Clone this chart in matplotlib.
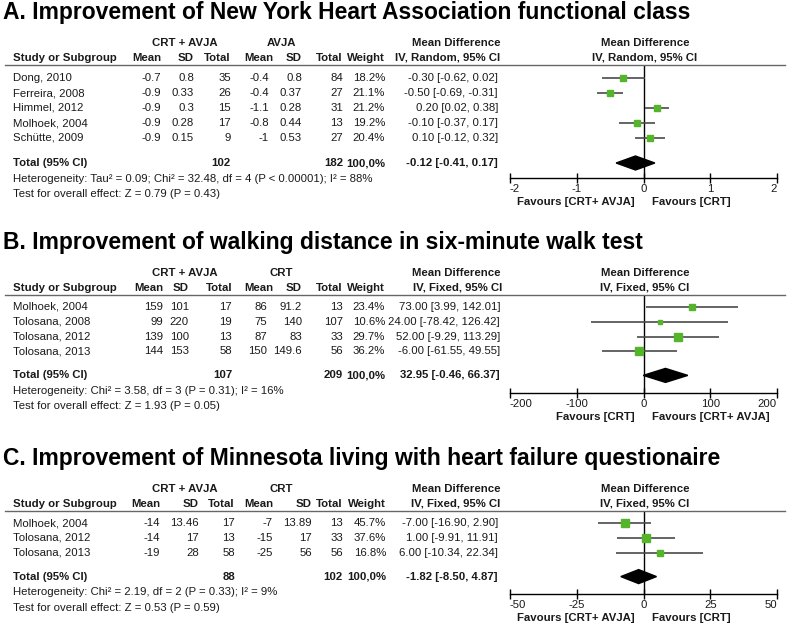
import matplotlib
matplotlib.use('Agg')
import matplotlib.pyplot as plt
from matplotlib.patches import Polygon
from matplotlib.lines import Line2D
import numpy as np

plt.rcParams['font.family'] = ['Liberation Sans', 'DejaVu Sans']

# ---------------- Data ----------------
# Panel A: NYHA functional class
a_title = "A. Improvement of New York Heart Association functional class"
a_studies = ["Dong, 2010", "Ferreira, 2008", "Himmel, 2012", "Molhoek, 2004", "Schütte, 2009"]
a_mean1 = [-0.7, -0.9, -0.9, -0.9, -0.9]
a_sd1 = [0.8, 0.33, 0.3, 0.28, 0.15]
a_n1 = [35, 26, 15, 17, 9]
a_mean2 = [-0.4, -0.4, -1.1, -0.8, -1]
a_sd2 = [0.8, 0.37, 0.28, 0.44, 0.53]
a_n2 = [84, 27, 31, 13, 27]
a_weight = [18.2, 21.1, 21.2, 19.2, 20.4]
a_md = [-0.30, -0.50, 0.20, -0.10, 0.10]
a_lo = [-0.62, -0.69, 0.02, -0.37, -0.12]
a_hi = [0.02, -0.31, 0.38, 0.17, 0.32]
a_total = [102, 182]
a_pooled = [-0.12, -0.41, 0.17]
a_het = "Heterogeneity: Tau² = 0.09; Chi² = 32.48, df = 4 (P < 0.00001); I² = 88%"
a_test = "Test for overall effect: Z = 0.79 (P = 0.43)"
a_ticks = [-2, -1, 0, 1, 2]
a_fav = ["Favours [CRT+ AVJA]", "Favours [CRT]"]

# Panel B: six-minute walk test
b_title = "B. Improvement of walking distance in six-minute walk test"
b_studies = ["Molhoek, 2004", "Tolosana, 2008", "Tolosana, 2012", "Tolosana, 2013"]
b_mean1 = [159, 99, 139, 144]
b_sd1 = [101, 220, 100, 153]
b_n1 = [17, 19, 13, 58]
b_mean2 = [86, 75, 87, 150]
b_sd2 = [91.2, 140, 83, 149.6]
b_n2 = [13, 107, 33, 56]
b_weight = [23.4, 10.6, 29.7, 36.2]
b_md = [73.00, 24.00, 52.00, -6.00]
b_lo = [3.99, -78.42, -9.29, -61.55]
b_hi = [142.01, 126.42, 113.29, 49.55]
b_total = [107, 209]
b_pooled = [32.95, -0.46, 66.37]
b_het = "Heterogeneity: Chi² = 3.58, df = 3 (P = 0.31); I² = 16%"
b_test = "Test for overall effect: Z = 1.93 (P = 0.05)"
b_ticks = [-200, -100, 0, 100, 200]
b_fav = ["Favours [CRT]", "Favours [CRT+ AVJA]"]

# Panel C: Minnesota living with heart failure questionnaire
c_title = "C. Improvement of Minnesota living with heart failure questionaire"
c_studies = ["Molhoek, 2004", "Tolosana, 2012", "Tolosana, 2013"]
c_mean1 = [-14, -14, -19]
c_sd1 = [13.46, 17, 28]
c_n1 = [17, 13, 58]
c_mean2 = [-7, -15, -25]
c_sd2 = [13.89, 17, 56]
c_n2 = [13, 33, 56]
c_weight = [45.7, 37.6, 16.8]
c_md = [-7.00, 1.00, 6.00]
c_lo = [-16.90, -9.91, -10.34]
c_hi = [2.90, 11.91, 22.34]
c_total = [88, 102]
c_pooled = [-1.82, -8.50, 4.87]
c_het = "Heterogeneity: Chi² = 2.19, df = 2 (P = 0.33); I² = 9%"
c_test = "Test for overall effect: Z = 0.53 (P = 0.59)"
c_ticks = [-50, -25, 0, 25, 50]
c_fav = ["Favours [CRT+ AVJA]", "Favours [CRT]"]

# ---------------- Figure ----------------
W, H = 789, 627
fig = plt.figure(figsize=(W / 100, H / 100), dpi=100)
fig.patch.set_facecolor('white')

FS = 8.2
GREEN = '#54B42A'
CI_COL = '#4a4a4a'


def fx(x):
    return x / W


def fy(y):
    return 1 - y / H


def T(x, y, s, ha='left', bold=False, size=FS, color='#1a1a1a'):
    fig.text(fx(x), fy(y), s, ha=ha, va='center', fontsize=size,
             fontweight='bold' if bold else 'normal', color=color)


def fmt(v):
    return f"{v:g}"


def panel(R, layout, title, grp2, model, studies, m1, s1, n1, m2, s2, n2, wt, md, lo, hi,
          total, pooled, het, test, ticks, fav, cols):
    first_off, sp, tot_gap, axis_off = layout
    n = len(studies)
    row0 = R + first_off
    rows_y = [row0 + i * sp for i in range(n)]
    tot_y = rows_y[-1] + tot_gap
    axis_y = R + axis_off

    # title
    T(3, R - 53, title, bold=True, size=16.5, color='black')

    # headers
    cm1, cs1, cn1, cm2, cs2, cn2, cw, cmd = cols
    T(185, R - 22, "CRT + AVJA", ha='center', bold=True)
    T(281, R - 22, grp2, ha='center', bold=True)
    T(500, R - 22, "Mean Difference", ha='right', bold=True)
    T(645, R - 22, "Mean Difference", ha='center', bold=True)
    T(13, R - 7, "Study or Subgroup", bold=True)
    for x, s in [(cm1, "Mean"), (cs1, "SD"), (cn1, "Total"), (273, "Mean"),
                 (cs2, "SD"), (cn2, "Total"), (cw, "Weight"),
                 (cmd + 2, f"IV, {model}, 95% CI")]:
        T(x, R - 7, s, ha='right', bold=True)
    T(645, R - 7, f"IV, {model}, 95% CI", ha='center', bold=True)
    fig.add_artist(Line2D([fx(5), fx(785)], [fy(R), fy(R)], color='#666666', lw=1))

    # rows
    for i in range(n):
        y = rows_y[i]
        T(13, y, studies[i])
        T(cm1, y, fmt(m1[i]), ha='right')
        T(cs1, y, fmt(s1[i]), ha='right')
        T(cn1, y, fmt(n1[i]), ha='right')
        T(cm2, y, fmt(m2[i]), ha='right')
        T(cs2, y, fmt(s2[i]), ha='right')
        T(cn2, y, fmt(n2[i]), ha='right')
        T(cw, y, f"{wt[i]:.1f}%", ha='right')
        T(cmd, y, f"{md[i]:.2f} [{lo[i]:.2f}, {hi[i]:.2f}]", ha='right')

    T(13, tot_y, "Total (95% CI)", bold=True)
    T(cn1, tot_y, fmt(total[0]), ha='right', bold=True)
    T(cn2, tot_y, fmt(total[1]), ha='right', bold=True)
    T(cw, tot_y, "100,0%", ha='right', bold=True)
    T(cmd, tot_y, f"{pooled[0]:.2f} [{pooled[1]:.2f}, {pooled[2]:.2f}]", ha='right', bold=True)
    T(13, tot_y + 15.5, het)
    T(13, tot_y + 31, test)

    # forest axes
    xl, xr = 510, 777
    ax = fig.add_axes([fx(xl), fy(axis_y), (xr - xl) / W, (axis_y - R) / H])
    ax.patch.set_alpha(0)
    lim = max(abs(t) for t in ticks)
    ax.set_xlim(-lim, lim)
    top_idx = (R - row0) / sp
    bot_idx = (axis_y - row0) / sp
    ax.set_ylim(bot_idx, top_idx)
    tot_idx = (tot_y - row0) / sp

    for i in range(n):
        ax.plot([lo[i], hi[i]], [i, i], color=CI_COL, lw=1.2, solid_capstyle='butt', zorder=2)
        side = 1.33 * np.sqrt(wt[i]) * 0.72
        ax.plot([md[i]], [i], marker='s', ms=side, color=GREEN, mec=GREEN, zorder=3, clip_on=False)

    est, plo, phi = pooled
    h = 7.0 / sp
    ax.add_patch(Polygon([[plo, tot_idx], [est, tot_idx - h], [phi, tot_idx], [est, tot_idx + h]],
                         closed=True, color='black', zorder=3))
    ax.axvline(0, color='black', lw=1, zorder=1)

    for s in ['top', 'right', 'left']:
        ax.spines[s].set_visible(False)
    ax.spines['bottom'].set_color('black')
    ax.spines['bottom'].set_linewidth(1)
    ax.set_yticks([])
    ax.set_xticks(ticks)
    ax.set_xticklabels([fmt(t) for t in ticks])
    ax.tick_params(axis='x', direction='inout', length=7, width=1, labelsize=FS, pad=1,
                   colors='black', labelcolor='#1a1a1a')
    labs = ax.get_xticklabels()
    labs[0].set_ha('left')
    labs[-1].set_ha('right')

    zero_px = (xl + xr) / 2
    T(zero_px - 9, axis_y + 24, fav[0], ha='right', bold=True)
    T(zero_px + 9, axis_y + 24, fav[1], ha='left', bold=True)


panel(65, (13, 15.0, 25, 113), a_title, "AVJA", "Random", a_studies, a_mean1, a_sd1, a_n1,
      a_mean2, a_sd2, a_n2, a_weight, a_md, a_lo, a_hi, a_total, a_pooled, a_het, a_test,
      a_ticks, a_fav, (161, 194, 231, 269, 302, 343, 385, 498))
panel(295, (12, 14.8, 24, 98), b_title, "CRT", "Fixed", b_studies, b_mean1, b_sd1, b_n1,
      b_mean2, b_sd2, b_n2, b_weight, b_md, b_lo, b_hi, b_total, b_pooled, b_het, b_test,
      b_ticks, b_fav, (163, 189, 232, 267, 302, 343, 385, 500))
panel(511, (12, 14.8, 24, 83), c_title, "CRT", "Fixed", c_studies, c_mean1, c_sd1, c_n1,
      c_mean2, c_sd2, c_n2, c_weight, c_md, c_lo, c_hi, c_total, c_pooled, c_het, c_test,
      c_ticks, c_fav, (160, 199, 235, 273, 312, 343, 386, 498))

fig.savefig('out.png', dpi=100, facecolor='white')
